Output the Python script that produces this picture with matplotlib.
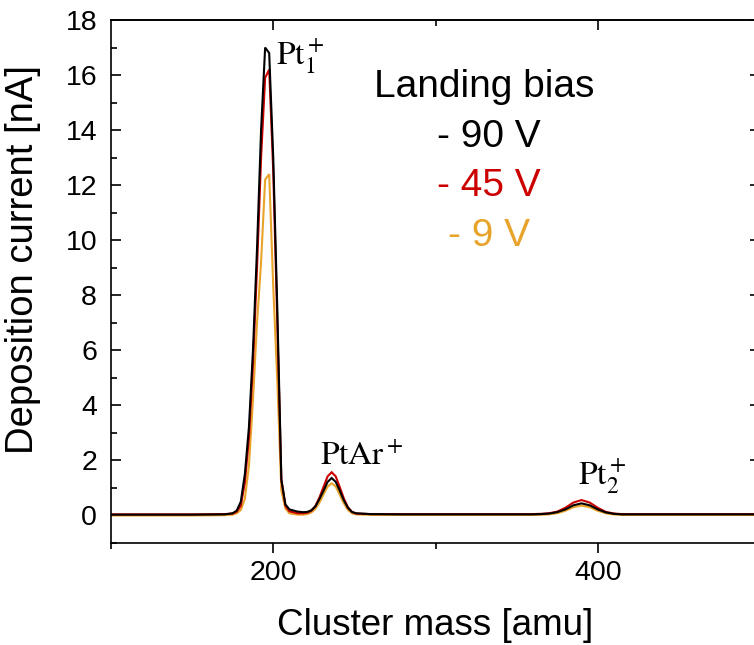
import matplotlib
matplotlib.use("Agg")
import matplotlib.pyplot as plt
from matplotlib.ticker import FixedLocator, NullFormatter

plt.rcParams['font.family'] = ['Liberation Sans', 'DejaVu Sans']
plt.rcParams['mathtext.fontset'] = 'stix'

# Cluster mass axis (amu) shared by all three scans
mass = [100, 150, 170, 175, 177.5, 180, 182.5, 185, 187.5, 190, 192.5, 195,
        197.5, 200, 202.5, 205, 207.5, 210, 215, 218.5, 221, 223.5, 226,
        228.5, 231, 233.5, 236, 238.5, 241, 243.5, 246, 248.5, 251, 260,
        280, 320, 350, 360, 365, 370, 375, 380, 385, 390, 395, 400, 405,
        410, 415, 420, 440, 470, 500]

# Deposition current (nA) for each landing bias
current_90V = [0.03, 0.03, 0.04, 0.08, 0.18, 0.5, 1.5, 3.2, 6.0, 9.7, 14.0, 17.0,
               16.8, 13.0, 7.5, 1.3, 0.4, 0.22, 0.14, 0.12, 0.13, 0.19, 0.33,
               0.6, 0.9, 1.22, 1.36, 1.22, 0.9, 0.55, 0.28, 0.13, 0.08, 0.05,
               0.04, 0.04, 0.04, 0.04, 0.05, 0.07, 0.12, 0.22, 0.37, 0.44, 0.37, 0.22, 0.11,
               0.06, 0.04, 0.04, 0.04, 0.04, 0.04]
current_45V = [0.04, 0.04, 0.05, 0.07, 0.14, 0.35, 1.2, 2.8, 5.5, 9.0, 13.0, 15.9,
               16.2, 12.5, 7.0, 1.3, 0.35, 0.15, 0.08, 0.08, 0.1, 0.17, 0.35,
               0.66, 1.04, 1.42, 1.57, 1.42, 1.03, 0.62, 0.3, 0.13, 0.07, 0.05,
               0.05, 0.05, 0.05, 0.05, 0.06, 0.08, 0.14, 0.28, 0.47, 0.56, 0.47, 0.28, 0.13,
               0.07, 0.05, 0.05, 0.05, 0.05, 0.05]
current_9V = [0.0, 0.0, 0.01, 0.03, 0.08, 0.2, 0.6, 1.8, 4.2, 7.0, 9.2, 12.2,
              12.4, 8.3, 4.9, 0.9, 0.25, 0.08, 0.03, 0.03, 0.05, 0.11, 0.24,
              0.47, 0.77, 1.05, 1.17, 1.05, 0.75, 0.44, 0.2, 0.08, 0.04, 0.02,
              0.02, 0.02, 0.02, 0.02, 0.025, 0.04, 0.08, 0.17, 0.3, 0.36, 0.3, 0.17, 0.08,
              0.035, 0.02, 0.02, 0.02, 0.02, 0.02]

bias_labels = ['- 90 V', '- 45 V', '- 9 V']
bias_colors = ['#000000', '#cc0000', '#e8a32a']

fig = plt.figure(figsize=(7.54, 6.45), dpi=100)
ax = fig.add_axes([111 / 754, 1 - 543 / 645, 649 / 754, 523 / 645])

# draw lowest bias first so the -90 V trace sits on top
for series, color in zip([current_9V, current_45V, current_90V], bias_colors[::-1]):
    ax.plot(mass, series, color=color, lw=1.5, solid_joinstyle='miter')

ax.set_xlim(100, 500)
ax.set_ylim(-1, 18)

for sp in ax.spines.values():
    sp.set_linewidth(1.2)

ax.xaxis.set_major_locator(FixedLocator([200, 400]))
ax.xaxis.set_minor_locator(FixedLocator([100, 300, 500]))
ax.yaxis.set_major_locator(FixedLocator(list(range(0, 19, 2))))
ax.yaxis.set_minor_locator(FixedLocator(list(range(-1, 18, 2))))

ax.tick_params(axis='x', which='major', direction='out', length=7, width=1.2,
               labelsize=20.5, pad=5, top=False)
ax.tick_params(axis='x', which='minor', direction='out', length=4, width=1.2, top=False)
ax.tick_params(axis='y', which='major', direction='in', length=7, width=1.2,
               labelsize=20.5, pad=10, right=True)
ax.tick_params(axis='y', which='minor', direction='in', length=4, width=1.2, right=False)

# inward ticks along the top edge
top = ax.secondary_xaxis('top')
top.xaxis.set_major_locator(FixedLocator([200, 400]))
top.xaxis.set_minor_locator(FixedLocator([300]))
top.xaxis.set_major_formatter(NullFormatter())
top.tick_params(which='major', direction='in', length=7, width=1.2)
top.tick_params(which='minor', direction='in', length=4, width=1.2)
top.spines['top'].set_linewidth(1.2)

ax.set_xlabel('Cluster mass [amu]', fontsize=26.5, labelpad=16)
ax.set_ylabel('Deposition current [nA]', fontsize=27.5)
ax.yaxis.set_label_coords(-0.108, 0.542)

# peak assignments
ax.text(202, 16.33, r'$\mathrm{Pt}_1^+$', fontsize=24, va='baseline', ha='left')
ax.text(229, 1.85, r'$\mathrm{PtAr}^+$', fontsize=24, va='baseline', ha='left')
ax.text(388, 1.13, r'$\mathrm{Pt}_2^+$', fontsize=24, va='baseline', ha='left')

# legend written as coloured text
ax.text(330, 15.2, 'Landing bias', fontsize=28, ha='center', va='baseline', color='black')
for i, (lab, col) in enumerate(zip(bias_labels, bias_colors)):
    ax.text(333, 13.4 - 1.8 * i, lab, fontsize=28, ha='center', va='baseline', color=col)

fig.savefig('out.png', dpi=100)
